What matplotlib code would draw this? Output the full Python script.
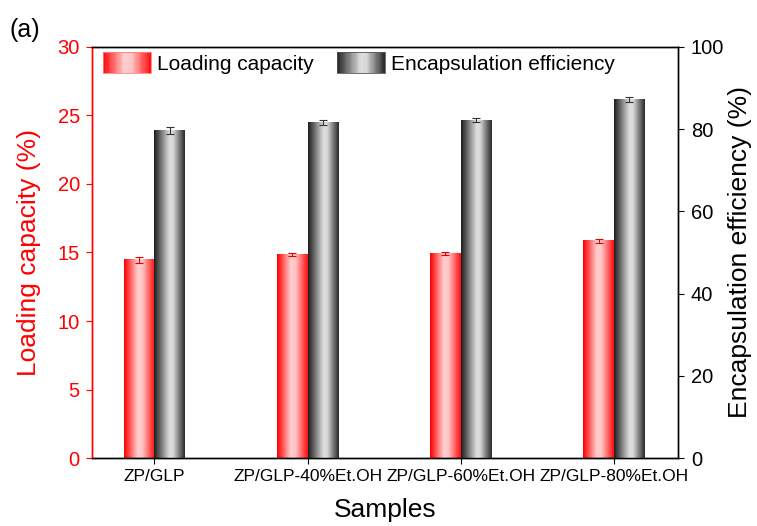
import numpy as np
import matplotlib.pyplot as plt
from matplotlib.colors import LinearSegmentedColormap
from matplotlib.legend_handler import HandlerBase
from matplotlib.patches import Rectangle

plt.rcParams['font.family'] = ['Liberation Sans', 'DejaVu Sans']

samples = ['ZP/GLP', 'ZP/GLP-40%Et.OH', 'ZP/GLP-60%Et.OH', 'ZP/GLP-80%Et.OH']
loading = [14.45, 14.85, 14.95, 15.85]
loading_err = [0.2, 0.12, 0.1, 0.15]
encaps = [79.6, 81.6, 82.1, 87.2]
encaps_err = [0.9, 0.7, 0.5, 0.6]

red_cmap = LinearSegmentedColormap.from_list(
    'redgrad', [(0, '#ff0000'), (0.45, '#ffd0d0'), (0.6, '#ffc4c4'), (1, '#ff1010')])
gray_cmap = LinearSegmentedColormap.from_list(
    'graygrad', [(0, '#1e1e1e'), (0.5, '#dedede'), (0.62, '#d8d8d8'), (1, '#2a2a2a')])

grad = np.linspace(0, 1, 64).reshape(1, -1)


def grad_bars(ax, xs, hs, w, cmap):
    for x, h in zip(xs, hs):
        ax.imshow(grad, cmap=cmap, extent=[x, x + w, 0, h], aspect='auto',
                  interpolation='bilinear', zorder=2)


class GradHandler(HandlerBase):
    def __init__(self, cmap, edge):
        super().__init__()
        self.cmap = cmap
        self.edge = edge

    def create_artists(self, legend, orig_handle, xdescent, ydescent,
                       width, height, fontsize, trans):
        n = 40
        arts = []
        for i in range(n):
            r = Rectangle((-xdescent + width * i / n, -ydescent), width / n + 0.3, height,
                          facecolor=self.cmap((i + 0.5) / n), edgecolor='none', transform=trans)
            arts.append(r)
        arts.append(Rectangle((-xdescent, -ydescent), width, height, facecolor='none',
                              edgecolor=self.edge, lw=0.6, transform=trans))
        return arts


x = np.arange(1, len(samples) + 1)
w = 0.2

fig, ax = plt.subplots(figsize=(7.57, 5.26), dpi=100)
ax2 = ax.twinx()

grad_bars(ax, x - w, loading, w, red_cmap)
ax.errorbar(x - w / 2, loading, yerr=loading_err, fmt='none', ecolor='#e00000',
            elinewidth=0.8, capsize=3, capthick=0.8, zorder=3)
grad_bars(ax2, x, encaps, w, gray_cmap)
ax2.errorbar(x + w / 2, encaps, yerr=encaps_err, fmt='none', ecolor='#333333',
             elinewidth=0.8, capsize=3, capthick=0.8, zorder=3)

ax.set_xlim(0.595, 4.42)
ax.set_ylim(0, 30)
ax2.set_ylim(0, 100)
ax.set_xticks(x)
ax.set_xticklabels(samples, fontsize=12.5)
ax.set_yticks(np.arange(0, 31, 5))
ax2.set_yticks(np.arange(0, 101, 20))

ax.tick_params(axis='y', colors='red', labelsize=14.5, direction='out', length=4, pad=5)
ax.tick_params(axis='x', labelsize=12.5, direction='out', length=4, pad=4)
ax2.tick_params(axis='y', labelsize=14.5, direction='out', length=4, pad=5)

ax.spines['left'].set_color('red')
ax2.spines['left'].set_color('red')
for a in (ax, ax2):
    for s in a.spines.values():
        s.set_linewidth(1.0)

ax.set_xlabel('Samples', fontsize=19, labelpad=10)
ax.set_ylabel('Loading capacity (%)', fontsize=19, color='red', labelpad=12)
ax2.set_ylabel('Encapsulation efficiency (%)', fontsize=19, labelpad=3)

h1 = Rectangle((0, 0), 1, 1)
h2 = Rectangle((0, 0), 1, 1)
ax2.legend([h1, h2], ['Loading capacity', 'Encapsulation efficiency'],
           handler_map={h1: GradHandler(red_cmap, '#ff8080'), h2: GradHandler(gray_cmap, '#555555')},
           loc='upper left', ncol=2, frameon=False, fontsize=15,
           handlelength=2.3, handleheight=1.15, handletextpad=0.3, columnspacing=1.1,
           bbox_to_anchor=(0.0, 1.012), borderaxespad=0.1)

fig.text(0.013, 0.93, '(a)', fontsize=18)

plt.subplots_adjust(left=0.122, right=0.896, top=0.911, bottom=0.129)
fig.savefig('out.png', dpi=100)
